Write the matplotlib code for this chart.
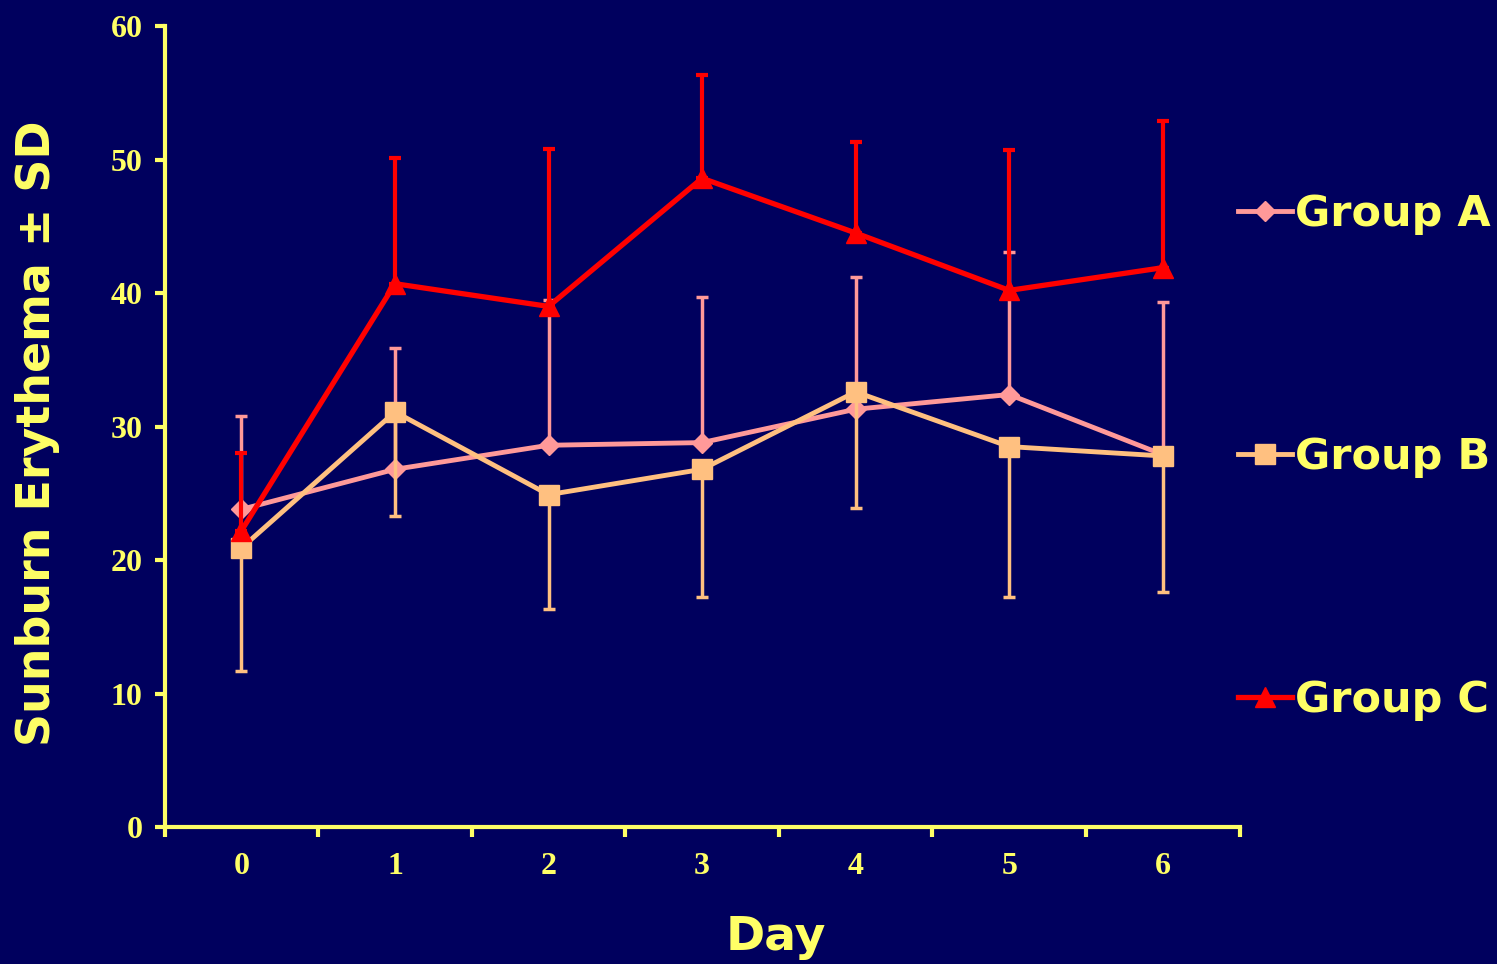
import numpy as np
import matplotlib.pyplot as plt
from matplotlib.lines import Line2D

days = [0, 1, 2, 3, 4, 5, 6]
labels = ['Group A', 'Group B', 'Group C']

# mean values
group_a = [23.8, 26.8, 28.6, 28.8, 31.3, 32.4, 27.9]
group_b = [20.9, 31.1, 24.9, 26.8, 32.6, 28.5, 27.8]
group_c = [22.2, 40.7, 39.0, 48.6, 44.5, 40.2, 41.9]

# end of the SD bar (A and C go up, B goes down)
a_top = [30.8, 35.9, 39.5, 39.7, 41.2, 43.1, 39.3]
b_bottom = [11.7, 23.3, 16.3, 17.2, 23.9, 17.2, 17.6]
c_top = [28.0, 50.1, 50.8, 56.3, 51.3, 50.7, 52.9]

bg = '#00005E'
yellow = '#FFFF66'
col_a = '#FF9999'
col_b = '#FFC080'
col_c = '#FF0000'

fig = plt.figure(figsize=(14.97, 9.64), dpi=100, facecolor=bg)
ax = fig.add_axes([0.110, 0.142, 0.718, 0.831])
ax.set_facecolor(bg)

x = np.array(days)
a = np.array(group_a)
b = np.array(group_b)
c = np.array(group_c)
zero = np.zeros(len(days))

ax.errorbar(x, a, yerr=[zero, np.array(a_top) - a], color=col_a, lw=3.5,
            marker='D', ms=10, elinewidth=2.5, capsize=4, capthick=2.5, zorder=3)
ax.errorbar(x, b, yerr=[b - np.array(b_bottom), zero], color=col_b, lw=3.5,
            marker='s', ms=14, elinewidth=2.5, capsize=4, capthick=2.5, zorder=4)
ax.errorbar(x, c, yerr=[zero, np.array(c_top) - c], color=col_c, lw=3.8,
            marker='^', ms=15, elinewidth=3, capsize=4.5, capthick=3, zorder=5)

ax.set_xlim(-0.5, 6.5)
ax.set_ylim(0, 60)
ax.set_yticks(range(0, 61, 10))
ax.set_xticks(np.arange(-0.5, 6.6, 1))
ax.set_xticklabels([])
ax.set_xticks(x, minor=True)
ax.set_xticklabels([str(d) for d in days], minor=True)
ax.tick_params(axis='x', which='minor', length=0, pad=18, labelsize=23, labelcolor=yellow)
ax.tick_params(axis='x', which='major', length=7, width=3, direction='out', color=yellow)
ax.tick_params(axis='y', length=7, width=3, direction='out', color=yellow, pad=9,
               labelsize=23, labelcolor=yellow)

for lab in ax.get_yticklabels() + ax.get_xticklabels(minor=True):
    lab.set_fontfamily('Liberation Serif')
    lab.set_fontweight('bold')

for side in ['top', 'right']:
    ax.spines[side].set_visible(False)
for side in ['left', 'bottom']:
    ax.spines[side].set_color(yellow)
    ax.spines[side].set_linewidth(3)

fig.text(0.518, 0.028, 'Day', color=yellow, fontsize=34, fontweight='bold',
         ha='center', va='center', family='DejaVu Sans')
fig.text(0.025, 0.551, 'Sunburn Erythema \u00b1 SD', color=yellow, fontsize=33,
         fontweight='bold', ha='center', va='center', rotation=90, family='DejaVu Sans')

handles = [
    Line2D([], [], color=col_a, lw=3.5, marker='D', ms=10),
    Line2D([], [], color=col_b, lw=3.5, marker='s', ms=14),
    Line2D([], [], color=col_c, lw=3.8, marker='^', ms=15),
]
leg = fig.legend(handles, labels, loc='upper left', bbox_to_anchor=(0.827, 0.800),
                 frameon=False, handlelength=1.25, handletextpad=0.08, borderpad=0,
                 borderaxespad=0, labelspacing=4.67,
                 prop={'family': 'DejaVu Sans', 'weight': 'bold', 'size': 31})
for t in leg.get_texts():
    t.set_color(yellow)

fig.savefig('out.png', dpi=100, facecolor=bg)
